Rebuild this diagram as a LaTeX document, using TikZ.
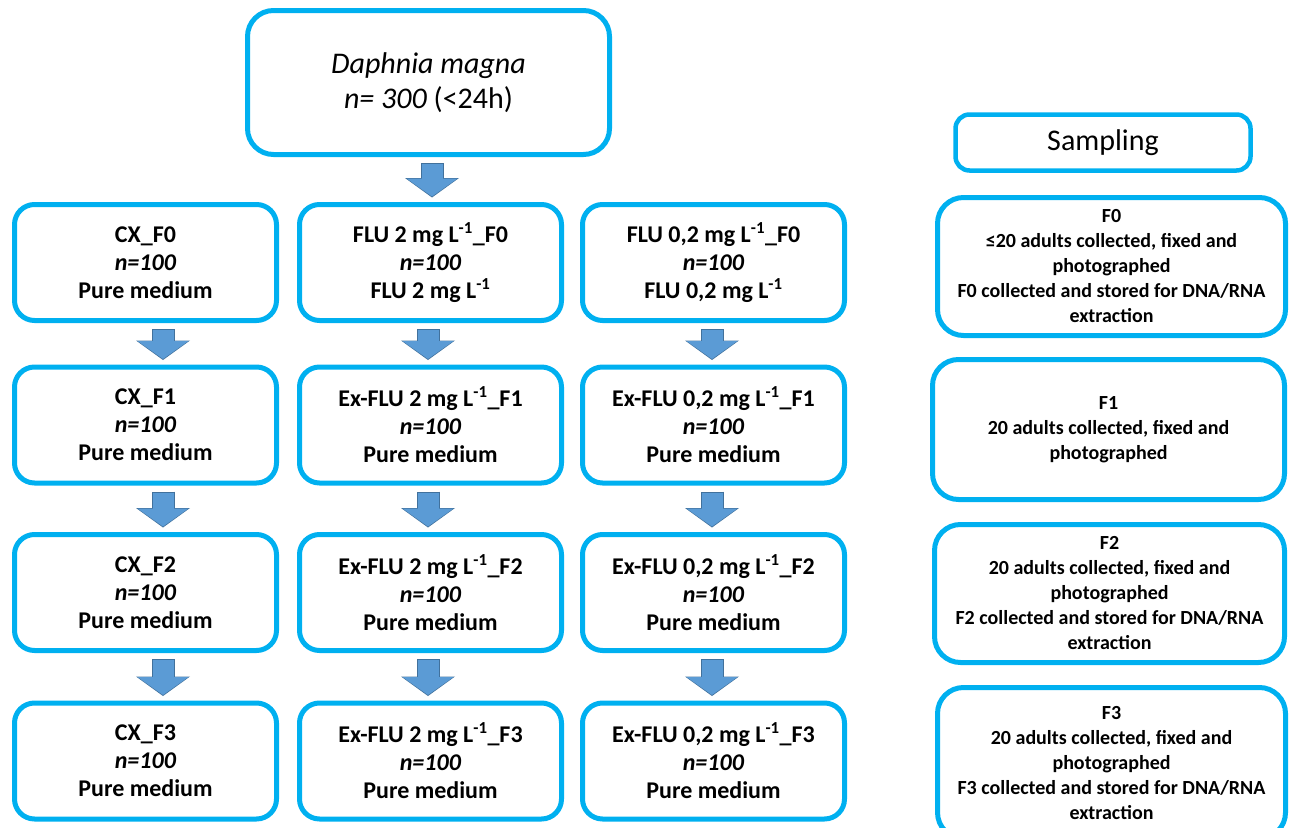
\documentclass[tikz,border=0pt]{standalone}
\usepackage{fontspec}
\setmainfont{Carlito}
\usepackage{tikz}
\usetikzlibrary{arrows.meta}
\definecolor{boxcyan}{RGB}{0,176,240}
\definecolor{arrowfill}{RGB}{91,155,213}
\definecolor{arrowedge}{RGB}{65,113,156}

\begin{document}
\begin{tikzpicture}[
  x=1pt, y=-1pt,
  box/.style={draw=boxcyan,line width=5pt,rounded corners=20pt,align=center,inner sep=2pt,minimum width=262pt,minimum height=116pt,font=\fontsize{24}{28}\selectfont\bfseries},
  topbox/.style={box,rounded corners=26pt,minimum width=362pt,minimum height=144pt,font=\fontsize{30}{35}\selectfont},
  headbox/.style={box,rounded corners=14pt,line width=4.5pt,minimum width=295pt,minimum height=56pt,font=\fontsize{30}{35}\selectfont},
  sampbox/.style={box,rounded corners=26pt,minimum width=350pt,minimum height=139pt,font=\fontsize{20}{25}\selectfont\bfseries},
  arr/.style={draw=arrowfill,line width=21pt,shorten <=7pt,shorten >=5.5pt,
    -{Triangle[width=51pt,length=18pt,line width=0pt]},
    preaction={draw=arrowedge,line width=23pt,shorten <=6pt,shorten >=4.5pt,
      -{Triangle[width=54pt,length=19.5pt,line width=0pt]}}}
]
  \clip (0,0) rectangle (1290,827);

  % start population
  \node[topbox] (daph) at (428.5,82.5) {\textit{Daphnia magna}\\\textit{n= 300} (<24h)};

  % control line
  \node[box] (cx0) at (145.5,262.5) {CX\_F0\\\textit{n=100}\\Pure medium};
  \node[box] (cx1) at (145.5,425) {CX\_F1\\\textit{n=100}\\Pure medium};
  \node[box] (cx2) at (145.5,592.5) {CX\_F2\\\textit{n=100}\\Pure medium};
  \node[box] (cx3) at (145.5,761) {CX\_F3\\\textit{n=100}\\Pure medium};

  % FLU 2 mg/L line
  \node[box] (hi0) at (430.5,262.5) {FLU 2 mg L\textsuperscript{-1}\_F0\\\textit{n=100}\\FLU 2 mg L\textsuperscript{-1}};
  \node[box] (hi1) at (430.5,425) {Ex-FLU 2 mg L\textsuperscript{-1}\_F1\\\textit{n=100}\\Pure medium};
  \node[box] (hi2) at (430.5,592.5) {Ex-FLU 2 mg L\textsuperscript{-1}\_F2\\\textit{n=100}\\Pure medium};
  \node[box] (hi3) at (430.5,761) {Ex-FLU 2 mg L\textsuperscript{-1}\_F3\\\textit{n=100}\\Pure medium};

  % FLU 0,2 mg/L line
  \node[box] (lo0) at (713.5,262.5) {FLU 0,2 mg L\textsuperscript{-1}\_F0\\\textit{n=100}\\FLU 0,2 mg L\textsuperscript{-1}};
  \node[box] (lo1) at (713.5,425) {Ex-FLU 0,2 mg L\textsuperscript{-1}\_F1\\\textit{n=100}\\Pure medium};
  \node[box] (lo2) at (713.5,592.5) {Ex-FLU 0,2 mg L\textsuperscript{-1}\_F2\\\textit{n=100}\\Pure medium};
  \node[box] (lo3) at (713.5,761) {Ex-FLU 0,2 mg L\textsuperscript{-1}\_F3\\\textit{n=100}\\Pure medium};

  % sampling column
  \node[headbox] (samp) at (1103,142.5) {Sampling};
  \node[sampbox,minimum width=348pt,minimum height=138pt] (sf0) at (1111.5,266.5) {F0\\≤20 adults collected, fixed and\\photographed\\F0 collected and stored for DNA/RNA\\extraction};
  \node[sampbox,minimum width=352pt,minimum height=140pt] (sf1) at (1108.5,429.5) {F1\\20 adults collected, fixed and\\photographed};
  \node[sampbox,minimum height=138pt] (sf2) at (1109.5,593.5) {F2\\20 adults collected, fixed and\\photographed\\F2 collected and stored for DNA/RNA\\extraction};
  \node[sampbox,minimum width=348pt,minimum height=151pt] (sf3) at (1111.5,763) {F3\\20 adults collected, fixed and\\photographed\\F3 collected and stored for DNA/RNA\\extraction};

  % block arrows
  \draw[arr] ([xshift=3.5pt]daph.south) -- ([xshift=3.5pt]daph.south |- hi0.north);
  \draw[arr] ([xshift=17.5pt]cx0.south) -- ([xshift=17.5pt]cx1.north);
  \draw[arr] ([xshift=17.5pt]cx1.south) -- ([xshift=17.5pt]cx2.north);
  \draw[arr] ([xshift=17.5pt]cx2.south) -- ([xshift=17.5pt]cx3.north);
  \draw[arr] ([xshift=-2.5pt]hi0.south) -- ([xshift=-2.5pt]hi1.north);
  \draw[arr] ([xshift=-2.5pt]hi1.south) -- ([xshift=-2.5pt]hi2.north);
  \draw[arr] ([xshift=-2.5pt]hi2.south) -- ([xshift=-2.5pt]hi3.north);
  \draw[arr] ([xshift=-1.5pt]lo0.south) -- ([xshift=-1.5pt]lo1.north);
  \draw[arr] ([xshift=-1.5pt]lo1.south) -- ([xshift=-1.5pt]lo2.north);
  \draw[arr] ([xshift=-1.5pt]lo2.south) -- ([xshift=-1.5pt]lo3.north);
\end{tikzpicture}
\end{document}
